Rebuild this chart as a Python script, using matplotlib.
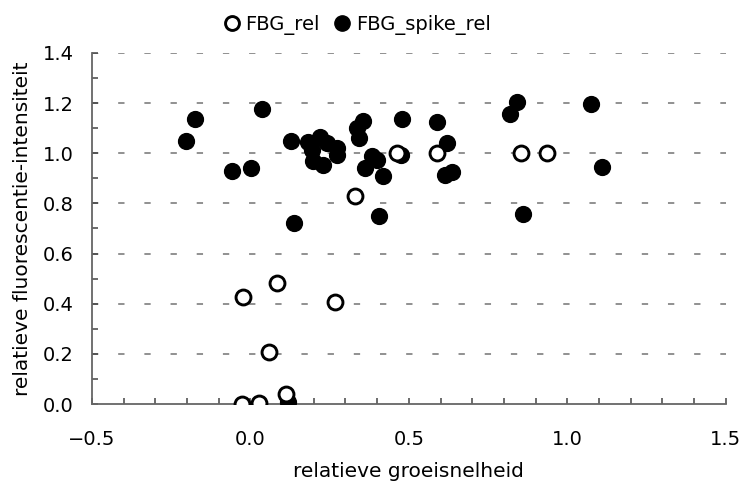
import matplotlib
matplotlib.use("Agg")
import matplotlib.pyplot as plt
from matplotlib.ticker import MultipleLocator, FuncFormatter
from matplotlib.lines import Line2D

plt.rcParams['font.family'] = ['DejaVu Sans']

# FBG_rel (open circles)
rel_x = [-0.027, 0.027, 0.06, -0.024, 0.084, 0.266, 0.112, 0.33, 0.464, 0.589, 0.853, 0.935]
rel_y = [0.0, 0.005, 0.207, 0.425, 0.483, 0.405, 0.04, 0.83, 1.0, 1.0, 1.0, 1.0]

# FBG_spike_rel (filled circles)
spike_x = [-0.203, -0.175, 0.037, -0.057, 0.003, 0.128, 0.182, 0.219, 0.242, 0.195,
           0.197, 0.23, 0.274, 0.274, 0.356, 0.337, 0.342, 0.383, 0.4, 0.362,
           0.418, 0.479, 0.475, 0.589, 0.619, 0.614, 0.637, 0.137, 0.405, 0.841,
           0.819, 1.074, 1.109, 0.86, 0.118]
spike_y = [1.05, 1.136, 1.175, 0.929, 0.943, 1.049, 1.046, 1.064, 1.042, 1.013,
           0.969, 0.953, 1.02, 0.993, 1.128, 1.10, 1.06, 0.99, 0.975, 0.94,
           0.908, 1.136, 0.993, 1.124, 1.042, 0.915, 0.927, 0.721, 0.751, 1.205,
           1.157, 1.197, 0.945, 0.758, 0.008]

fig = plt.figure(figsize=(7.43, 4.86), dpi=100)
ax = fig.add_axes([0.1238, 0.1687, 0.853, 0.7223])

ax.set_xlim(-0.5, 1.5)
ax.set_ylim(0.0, 1.4)

for y in [0.2, 0.4, 0.6, 0.8, 1.0, 1.2, 1.4]:
    ax.axhline(y, color='#888888', lw=1.3, ls=(0, (3.5, 11)), zorder=1)

ax.scatter(spike_x, spike_y, s=130, facecolor='black', edgecolor='black', lw=1.0, zorder=3)
ax.scatter(rel_x, rel_y, s=115, facecolor='white', edgecolor='black', lw=2.1, zorder=4)

for side in ['top', 'right']:
    ax.spines[side].set_visible(False)
for side in ['left', 'bottom']:
    ax.spines[side].set_color('#666666')
    ax.spines[side].set_linewidth(1.3)

fmt = FuncFormatter(lambda v, p: f"{v:.1f}".replace('-', '\u2212'))
ax.xaxis.set_major_locator(MultipleLocator(0.5))
ax.xaxis.set_minor_locator(MultipleLocator(0.1))
ax.yaxis.set_major_locator(MultipleLocator(0.2))
ax.yaxis.set_minor_locator(MultipleLocator(0.1))
ax.xaxis.set_major_formatter(fmt)
ax.yaxis.set_major_formatter(fmt)
ax.tick_params(which='both', direction='in', length=4, width=1.1, color='#444444',
               labelsize=14, labelcolor='black')
ax.tick_params(axis='x', which='major', pad=19)
ax.tick_params(axis='y', which='major', pad=13)

ax.set_xlabel('relatieve groeisnelheid', fontsize=14.5, labelpad=9)
ax.set_ylabel('relatieve fluorescentie-intensiteit', fontsize=14.5, labelpad=8)

handles = [
    Line2D([], [], ls='none', marker='o', markersize=10, markerfacecolor='white',
           markeredgecolor='black', markeredgewidth=2.1),
    Line2D([], [], ls='none', marker='o', markersize=11, markerfacecolor='black',
           markeredgecolor='black'),
]
fig.legend(handles, ['FBG_rel', 'FBG_spike_rel'], loc='center',
           bbox_to_anchor=(357 / 743, 1 - 25 / 486), ncol=2, frameon=False,
           fontsize=14, handletextpad=0.25, columnspacing=0.7, handlelength=0.9)

fig.savefig('out.png', dpi=100)
